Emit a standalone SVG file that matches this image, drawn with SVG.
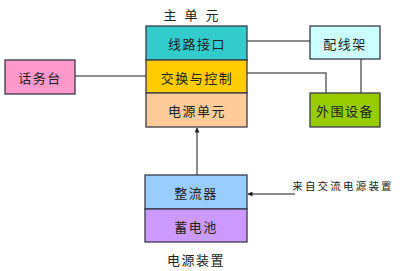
<svg xmlns="http://www.w3.org/2000/svg" width="400" height="271" viewBox="0 0 400 271">
<style>
.box{stroke:#3a3a4a;stroke-width:1.3}
.t{font-family:"Noto Sans CJK SC","Noto Sans",sans-serif;font-size:13px;fill:#222;text-anchor:middle;dominant-baseline:central;letter-spacing:1.5px}
.ln{stroke:#666;stroke-width:1.5;fill:none}
</style>
<defs>
<marker id="ah" viewBox="0 0 10 10" refX="9" refY="5" markerWidth="5" markerHeight="5" orient="auto-start-reverse" markerUnits="userSpaceOnUse">
<path d="M0,0 L10,5 L0,10 z" fill="#222"/>
</marker>
</defs>
<rect width="400" height="271" fill="#fff"/>
<g id="connectors">
<line class="ln" x1="75" y1="76" x2="146" y2="76"/>
<line class="ln" x1="247" y1="41" x2="310" y2="41"/>
<polyline class="ln" points="247,73 326,73 326,93"/>
<line class="ln" x1="361" y1="59" x2="361" y2="93"/>
<line class="ln" x1="197" y1="175" x2="197" y2="128" marker-end="url(#ah)"/>
<line class="ln" x1="295" y1="194" x2="248" y2="194" marker-end="url(#ah)"/>
</g>
<g id="main-unit">
<text class="t" x="195" y="14" style="letter-spacing:8px">主单元</text>
<g id="line-interface"><rect class="box" x="146" y="26" width="101" height="34" fill="#33CCCC"/><text class="t" x="197" y="43">线路接口</text></g>
<g id="switch-control"><rect class="box" x="146" y="60" width="101" height="33" fill="#FFCC00"/><text class="t" x="197" y="77">交换与控制</text></g>
<g id="power-unit"><rect class="box" x="146" y="93" width="101" height="34" fill="#FFCC99"/><text class="t" x="197" y="110">电源单元</text></g>
</g>
<g id="operator"><rect class="box" x="5" y="60" width="70" height="34" fill="#FF99CC"/><text class="t" x="40" y="77">话务台</text></g>
<g id="distribution-frame"><rect class="box" x="310" y="26" width="70" height="33" fill="#CCFFFF"/><text class="t" x="345" y="43">配线架</text></g>
<g id="peripheral"><rect class="box" x="310" y="93" width="70" height="34" fill="#99CC00"/><text class="t" x="345" y="110">外围设备</text></g>
<g id="power-device">
<g id="rectifier"><rect class="box" x="145" y="175" width="102" height="34" fill="#99CCFF"/><text class="t" x="196" y="192">整流器</text></g>
<g id="battery"><rect class="box" x="145" y="209" width="102" height="33" fill="#CC99FF"/><text class="t" x="196" y="226">蓄电池</text></g>
<text class="t" x="196" y="259">电源装置</text>
</g>
<text class="t" x="343" y="185" style="font-size:10.5px;letter-spacing:2.2px">来自交流电源装置</text>
</svg>
